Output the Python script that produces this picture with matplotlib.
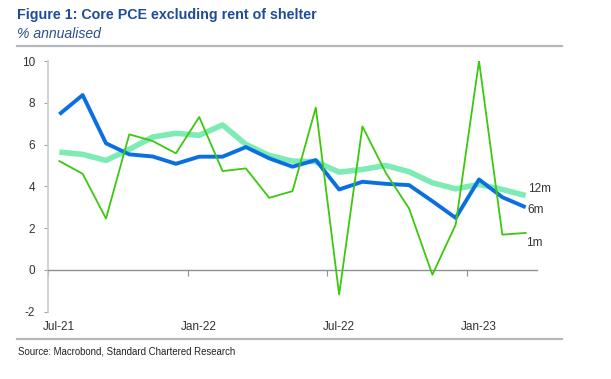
import matplotlib
matplotlib.use("Agg")
import matplotlib.pyplot as plt
from matplotlib.lines import Line2D
from matplotlib import font_manager

months = ["Jul-21", "Aug-21", "Sep-21", "Oct-21", "Nov-21", "Dec-21", "Jan-22",
          "Feb-22", "Mar-22", "Apr-22", "May-22", "Jun-22", "Jul-22", "Aug-22",
          "Sep-22", "Oct-22", "Nov-22", "Dec-22", "Jan-23", "Feb-23", "Mar-23"]
one_m = [5.21, 4.60, 2.46, 6.49, 6.17, 5.58, 7.32, 4.73, 4.86, 3.45, 3.77, 7.77,
         -1.18, 6.87, 4.65, 2.94, -0.23, 2.17, 10.0, 1.69, 1.77]
six_m = [7.45, 8.37, 6.06, 5.53, 5.43, 5.08, 5.42, 5.42, 5.88, 5.34, 4.94, 5.26,
         3.85, 4.22, 4.12, 4.06, 3.29, 2.49, 4.33, 3.48, 3.00]
twelve_m = [5.64, 5.53, 5.24, 5.77, 6.36, 6.54, 6.44, 6.94, 6.01, 5.48, 5.21, 5.18,
            4.68, 4.81, 5.00, 4.70, 4.17, 3.88, 4.09, 3.85, 3.56]
x_labels = ["Jul-21", "Jan-22", "Jul-22", "Jan-23"]
y_ticks = [-2, 0, 2, 4, 6, 8, 10]
series_labels = ["12m", "6m", "1m"]

names = {f.name for f in font_manager.fontManager.ttflist}
narrow = "Liberation Sans Narrow" if "Liberation Sans Narrow" in names else "Liberation Sans"
plt.rcParams["font.family"] = ["Liberation Sans", "DejaVu Sans"]

W, H = 611, 379
fig = plt.figure(figsize=(W / 100, H / 100), dpi=100)
ax = fig.add_axes([47.7 / W, 1 - 311.7 / H, (537.3 - 47.7) / W, (311.7 - 61) / H])

xs = list(range(len(months)))
ax.plot(xs, twelve_m, color="#7DEBB4", lw=4.0, solid_capstyle="butt", zorder=2)
ax.plot(xs, six_m, color="#0A70E2", lw=2.8, solid_capstyle="butt", zorder=3)
ax.plot(xs, one_m, color="#3CC80E", lw=1.3, zorder=4)

ax.set_xlim(-0.5, len(months) - 0.5)
ax.set_ylim(-2, 10)

for s in ["top", "right"]:
    ax.spines[s].set_visible(False)
ax.spines["left"].set_color("#C8CCD0")
ax.spines["left"].set_linewidth(1.2)
ax.spines["bottom"].set_position(("data", 0))
ax.spines["bottom"].set_color("#8A9096")
ax.spines["bottom"].set_linewidth(1.0)

ax.set_yticks(y_ticks)
ax.set_yticklabels([str(v) for v in y_ticks], fontsize=8.5, color="#333333",
                   fontfamily=narrow)
ax.tick_params(axis="y", length=3, width=0.8, color="#A0A4A8", pad=6)

idx = [months.index(l) for l in x_labels]
ax.set_xticks([i - 0.5 for i in idx])
ax.set_xticklabels([])
ax.tick_params(axis="x", length=4, width=0.8, color="#8A9096", direction="out")
for i, l in zip(idx, x_labels):
    ax.annotate(l, xy=(i, 0), xycoords=("data", "axes fraction"),
                xytext=(0, -15.5), textcoords="offset pixels",
                ha="center", va="center", fontsize=8.5, color="#333333",
                fontfamily=narrow)

# series labels
ends = [twelve_m[-1], six_m[-1], one_m[-1]]
offs = [(2, 7), (2, -3), (0, -10)]
for lab, v, (dx, dy) in zip(series_labels, ends, offs):
    ax.annotate(lab, xy=(len(months) - 1, v), xycoords="data",
                xytext=(dx, dy), textcoords="offset pixels",
                ha="left", va="center", fontsize=8.5, color="#333333",
                fontfamily=narrow, annotation_clip=False)

# title and frame lines
fig.text(17 / W, 1 - 15.5 / H, "Figure 1: Core PCE excluding rent of shelter",
         fontsize=10.3, fontweight="bold", color="#1F4C9A", va="center", ha="left")
fig.text(17 / W, 1 - 33.5 / H, "% annualised", fontsize=10.1, style="italic",
         color="#2A4F8F", va="center", ha="left")
fig.add_artist(Line2D([17 / W, 561.7 / W], [1 - 45.5 / H] * 2, color="#B4B8BC",
                      lw=1.6, transform=fig.transFigure))
fig.add_artist(Line2D([17 / W, 561.7 / W], [1 - 339.3 / H] * 2, color="#B4B8BC",
                      lw=1.6, transform=fig.transFigure))
fig.text(18 / W, 1 - 352 / H, "Source: Macrobond, Standard Chartered Research",
         fontsize=6.9, color="#222222", va="center", ha="left")

fig.savefig("out.png", dpi=100)
